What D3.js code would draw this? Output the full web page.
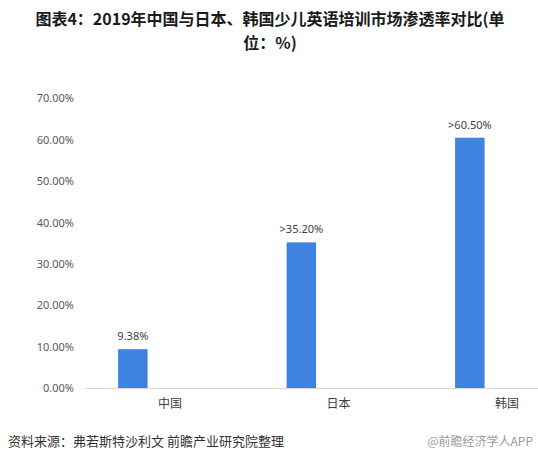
<!DOCTYPE html>
<html><head><meta charset="utf-8">
<script src="https://cdn.jsdelivr.net/npm/d3@7/dist/d3.min.js"></script>
<style>body{margin:0;background:#fff}svg{display:block}</style>
</head><body><div id="chart"></div>
<script>
const categories = ["中国", "日本", "韩国"];
const values = [9.38, 35.2, 60.5];
const valueLabels = ["9.38%", ">35.20%", ">60.50%"];
const yTicks = [0, 10, 20, 30, 40, 50, 60, 70];
const titleLines = ["图表4：2019年中国与日本、韩国少儿英语培训市场渗透率对比(单", "位：%)"];
const sourceText = "资料来源：弗若斯特沙利文 前瞻产业研究院整理";
const brandText = "@前瞻经济学人APP";

const W = 538, H = 464;
const svg = d3.select("#chart").append("svg").attr("width", W).attr("height", H);
const cjk = "'Noto Sans CJK SC','Microsoft YaHei',sans-serif";

// title
svg.append("g").selectAll("text").data(titleLines).join("text")
  .attr("x", 270).attr("y", (d, i) => 25 + i * 23.5)
  .attr("text-anchor", "middle")
  .attr("font-family", cjk).attr("font-weight", "bold")
  .attr("font-size", 16).attr("fill", "#1a1a1a").text(d => d);

const y = d3.scaleLinear().domain([0, 70]).range([388, 98.4]);
const x = d3.scaleBand().domain(categories).range([85.75, 591.25]).padding(0);

// y labels
const yAxis = d3.axisLeft(y).tickValues(yTicks).tickSize(0).tickPadding(0)
  .tickFormat(d => d3.format(".2f")(d) + "%");
const gy = svg.append("g").attr("transform", "translate(74,0)").call(yAxis);
gy.select(".domain").remove();
gy.selectAll("text").attr("font-family", "'Noto Sans','Open Sans',sans-serif")
  .attr("font-size", 11).attr("fill", "#595959");

// x axis
const xAxis = d3.axisBottom(x).tickSize(0).tickPadding(11);
const gx = svg.append("g").attr("transform", "translate(0,388)").call(xAxis);
gx.select(".domain").attr("stroke", "#d9d9d9").attr("d", "M85,0.5H538");
gx.selectAll("text").attr("font-family", cjk).attr("font-size", 12).attr("fill", "#404040");

// bars
const data = categories.map((c, i) => ({ c, v: values[i], l: valueLabels[i] }));
const bx = d => x(d.c) + x.bandwidth() * 0.192;
const bw = x.bandwidth() * 0.175;
svg.append("g").selectAll("rect").data(data).join("rect")
  .attr("x", bx).attr("width", bw)
  .attr("y", d => y(d.v)).attr("height", d => y(0) - y(d.v))
  .attr("fill", "#3f83e1");

svg.append("g").selectAll("text").data(data).join("text")
  .attr("x", d => bx(d) + bw / 2).attr("y", d => y(d.v) - 9)
  .attr("text-anchor", "middle")
  .attr("font-family", "'Noto Sans','Open Sans',sans-serif")
  .attr("font-size", 11).attr("fill", "#404040").text(d => d.l);

// footer
svg.append("text").attr("x", 8).attr("y", 446)
  .attr("font-family", cjk).attr("font-size", 13).attr("fill", "#333").text(sourceText);
svg.append("text").attr("x", 533).attr("y", 446).attr("text-anchor", "end")
  .attr("font-family", cjk).attr("font-size", 12).attr("fill", "#9a9a9a").text(brandText);
</script></body></html>
